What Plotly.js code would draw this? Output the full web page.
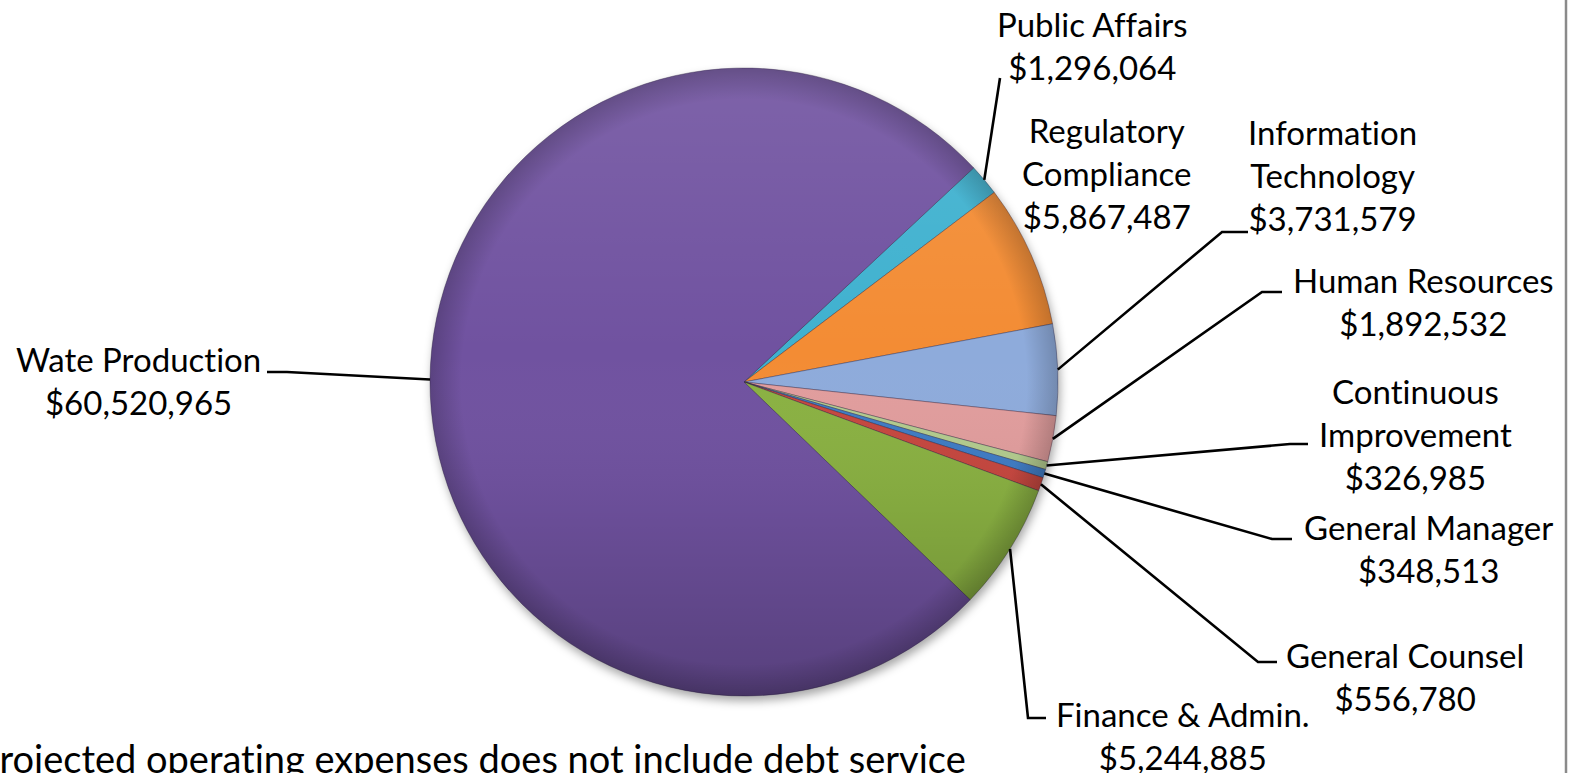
<!DOCTYPE html>
<html><head><meta charset="utf-8">
<script src="https://cdn.plot.ly/plotly-3.0.1.min.js"></script>
<style>html,body{margin:0;padding:0;background:#fff;overflow:hidden}#chart{width:1569px;height:773px}
svg text{font-variant-ligatures:none !important;font-feature-settings:"liga" 0, "clig" 0 !important;}</style>
</head><body><div id="chart"></div>
<script>
// ---- data ----
const departments = ["Public Affairs","Regulatory Compliance","Information Technology","Human Resources","Continuous Improvement","General Manager","General Counsel","Finance & Admin.","Wate Production"];
const expenses = [1296064, 5867487, 3731579, 1892532, 326985, 348513, 556780, 5244885, 60520965];
const labelLines = [["Public Affairs"],["Regulatory","Compliance"],["Information","Technology"],["Human Resources"],["Continuous","Improvement"],["General Manager"],["General Counsel"],["Finance & Admin."],["Wate Production"]];
const footnote = "Projected operating expenses does not include debt service";

// ---- styles / layout helpers ----
const sliceColors = ["#3fb1cf","#f38c34","#8eabdb","#e19d9d","#b3cb8e","#3f7cc4","#c6473f","#8ab142","#7052a0"];
const W = 1569, H = 773;
const CX = 744, CY = 382, R = 314;
const ROT = 47;
const FONT = "Lato, Calibri, 'Open Sans', sans-serif";
const FS = 33;
const labelPos = [[1092,45],[1106,173],[1332,175],[1423,301],[1415,434],[1428,548],[1405,676],[1183,735],[138,380]];
const elbows = [[[1000,78]], null, [[1222,232],[1248,232]], [[1262,292],[1282,292]], [[1290,444],[1308,444]], [[1272,539],[1292,539]], [[1258,662],[1277,662]], [[1028,718],[1046,718]], [[287,372],[267,372]]];

const px = x => x / W;
const py = y => 1 - y / H;

const total = expenses.reduce((a,b)=>a+b,0);
const annotations = [];
const shapes = [];
let cum = 0;
expenses.forEach((v,i) => {
  const mid = ROT + (cum + v/2) / total * 360;
  cum += v;
  const th = mid * Math.PI/180;
  const sx = CX + R*Math.sin(th), sy = CY - R*Math.cos(th);
  const txt = labelLines[i].concat(["$" + v.toLocaleString("en-US")]).join("<br>");
  annotations.push({text: txt, x: px(labelPos[i][0]), y: py(labelPos[i][1]), xref:"paper", yref:"paper",
    xanchor:"center", yanchor:"middle", showarrow:false, align:"center",
    font:{family:FONT, size:FS, color:"#000"}});
  if (elbows[i]) {
    let d = "M" + px(sx) + "," + py(sy);
    elbows[i].forEach(p => { d += " L" + px(p[0]) + "," + py(p[1]); });
    shapes.push({type:"path", xref:"paper", yref:"paper", path:d, line:{color:"#000", width:2.6}});
  }
});
annotations.push({text: footnote, x: px(968), y: py(758), xref:"paper", yref:"paper", xanchor:"right", yanchor:"middle",
  showarrow:false, font:{family:FONT, size:38, color:"#000"}});
shapes.push({type:"line", xref:"paper", yref:"paper", x0:px(1566), x1:px(1566), y0:0, y1:1, line:{color:"#8a8a8a", width:2.5}});

// shading overlays (bevel-like gradient and soft shadow)
const S = 680, half = S/2;
const shadeSvg = `<svg xmlns='http://www.w3.org/2000/svg' width='${S}' height='${S}' viewBox='0 0 ${S} ${S}'><defs><linearGradient id='g' x1='0' y1='0' x2='0' y2='1'><stop offset='0' stop-color='#fff' stop-opacity='0.1'/><stop offset='0.45' stop-color='#fff' stop-opacity='0'/><stop offset='0.7' stop-color='#000' stop-opacity='0.05'/><stop offset='1' stop-color='#000' stop-opacity='0.22'/></linearGradient><radialGradient id='rg' cx='0.5' cy='0.5' r='0.5'><stop offset='0.9' stop-color='#000' stop-opacity='0'/><stop offset='1' stop-color='#000' stop-opacity='0.2'/></radialGradient></defs><circle cx='${half}' cy='${half}' r='${R}' fill='url(#g)'/><circle cx='${half}' cy='${half}' r='${R}' fill='url(#rg)'/></svg>`;
const shadowSvg = `<svg xmlns='http://www.w3.org/2000/svg' width='${S}' height='${S}' viewBox='0 0 ${S} ${S}'><defs><filter id='b' x='-20%' y='-20%' width='140%' height='140%'><feGaussianBlur stdDeviation='5'/></filter></defs><circle cx='${half+2}' cy='${half+5}' r='${R}' fill='#000' fill-opacity='0.35' filter='url(#b)'/></svg>`;
const enc = s => "data:image/svg+xml;charset=utf-8," + encodeURIComponent(s);
const images = [
  {source: enc(shadowSvg), xref:"paper", yref:"paper", x:px(CX-half), y:py(CY-half), sizex:S/W, sizey:S/H, sizing:"stretch", layer:"below", xanchor:"left", yanchor:"top"},
  {source: enc(shadeSvg), xref:"paper", yref:"paper", x:px(CX-half), y:py(CY-half), sizex:S/W, sizey:S/H, sizing:"stretch", layer:"above", xanchor:"left", yanchor:"top"}
];

const trace = {
  type:"pie", labels: departments, values: expenses, sort:false, direction:"clockwise", rotation: ROT,
  textinfo:"none", hoverinfo:"label+value",
  marker:{colors: sliceColors, line:{color:"rgba(40,30,60,0.35)", width:1}},
  domain:{x:[px(CX-R), px(CX+R)], y:[py(CY+R), py(CY-R)]},
  showlegend:false
};
const layout = {
  width:W, height:H, margin:{l:0,r:0,t:0,b:0}, paper_bgcolor:"#fff", plot_bgcolor:"#fff",
  showlegend:false, annotations, shapes, images
};
Plotly.newPlot("chart", [trace], layout, {displayModeBar:false, staticPlot:true});
</script></body></html>
